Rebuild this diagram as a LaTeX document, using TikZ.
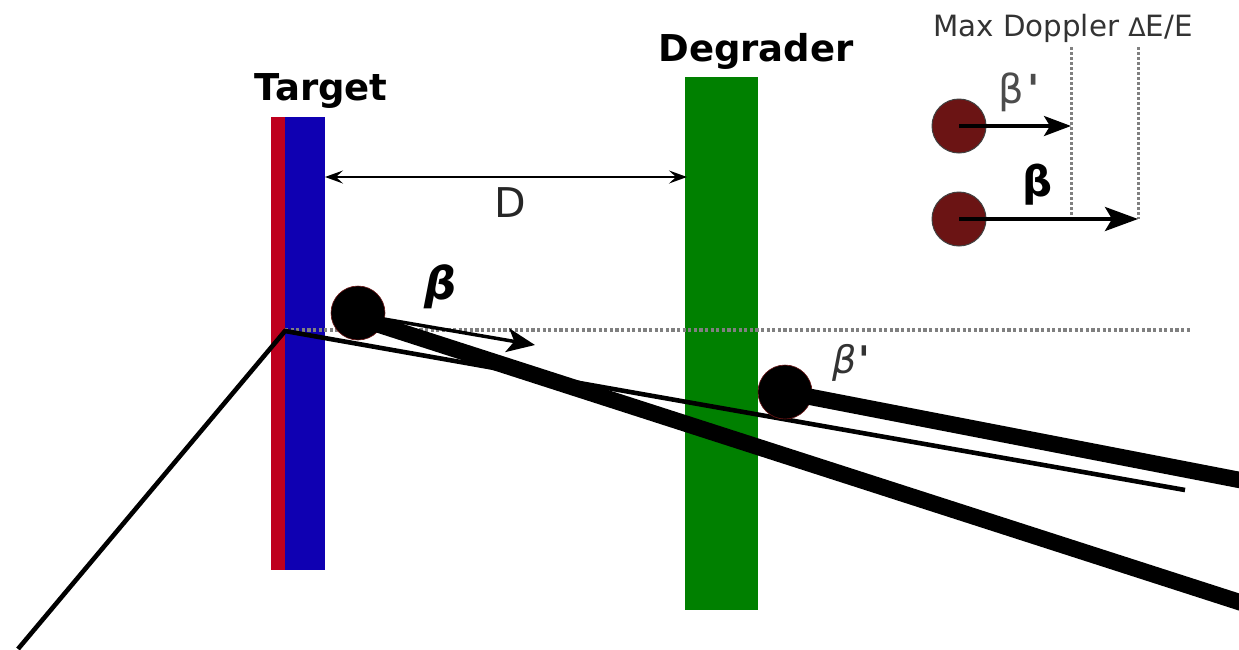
\documentclass[tikz,border=0pt]{standalone}
\usepackage{fontspec}
\setmainfont{DejaVu Sans}
\newfontfamily\nomap{DejaVu Sans}
\usetikzlibrary{arrows.meta}
\colorlet{dotgray}{black!50}
\definecolor{ballred}{RGB}{107,20,20}
\definecolor{tgtred}{RGB}{190,0,30}
\definecolor{tgtblue}{RGB}{15,0,178}
\definecolor{degreen}{RGB}{0,128,0}
\tikzset{
  foil/.style={draw=none,minimum width=#1,inner sep=0pt,outer sep=0pt},
  dotline/.style={draw=dotgray,line width=3.6pt,dash pattern=on 3.2pt off 2.4pt},
  vdot/.style={draw=dotgray,line width=3pt,dash pattern=on 3pt off 2pt},
  ballk/.style={circle,fill=black,draw=ballred,line width=0.6pt,minimum size=54pt,inner sep=0pt},
  ballr/.style={circle,fill=ballred,draw=black!75,line width=1pt,minimum size=54pt,inner sep=0pt},
  track/.style={draw=black,line width=4.6pt},
  beam/.style={draw=black,line width=16.4pt},
  head/.style={font=\bfseries\fontsize{37}{37}\selectfont},
  small/.style={font=\fontsize{29.3}{30}\selectfont,text=black!80},
  arr/.style={draw=black,line width=3.5pt,-{Stealth[length=#1,width=#1*0.85,inset=#1*0.25]}},
}
\begin{document}
\begin{tikzpicture}[x=1pt,y=-1pt]
\useasboundingbox (0,0) rectangle (1239,649);
\clip (0,0) rectangle (1239,649);
\fill[white] (0,0) rectangle (1239,649);
% foils
\node[foil=14pt,minimum height=453pt,fill=tgtred] (red) at (278,343.5) {};
\node[foil=40pt,minimum height=453pt,fill=tgtblue] (blue) at (305,343.5) {};
\node[foil=73pt,minimum height=533pt,fill=degreen] (deg) at (721.5,343.5) {};
% labels
\node[head] (tlab) at (321,91) {Target};
\node[head] (dlab) at (756,51) {Degrader};
\node[font=\fontsize{41}{41}\selectfont,text=black!85] (dist) at (510,203) {D};
\node[small] (title) at (1063,28) {Max Doppler {\fontsize{25.5}{25.5}\selectfont Δ}E/E};
% coordinates
\coordinate (vertex) at (285,331);
\coordinate (inc) at (18,649);
\coordinate (trackend) at (1185,490);
\coordinate (axisend) at (1190,330);
\coordinate (beam1start) at (358,318);
\coordinate (beam1end) at (1250,605.5);
\coordinate (beam2end) at (1250,482);
\coordinate (barrow) at (535,345);
\coordinate (dl) at (325,177);
\coordinate (dr) at (687,177);
% axis and track
\draw[dotline] (vertex |- axisend) -- (axisend);
\draw[track,line join=miter] (inc) -- (vertex) -- (trackend);
% D dimension
\draw[draw=black,line width=1.8pt,{Stealth[length=18pt,width=13pt,inset=7pt]}-{Stealth[length=18pt,width=13pt,inset=7pt]}] (dl) -- (dr);
% balls and beams
\node[ballk] (b1) at (358,313) {};
\node[ballk] (b2) at (785,392) {};
\draw[arr=28pt] (b1.center) ++(20,5) coordinate (bstart) (bstart) -- (barrow);
\draw[beam] (beam1start) -- (beam1end);
\draw[beam] (b2.center) -- (beam2end);
\node[font=\bfseries\itshape\fontsize{45}{45}\selectfont] (blab) at (441,287) {β};
\node[font=\itshape\fontsize{38}{38}\selectfont,text=black!80] (bplab) at (851,363) {β\hspace{2pt}{\nomap\bfseries '}};
% inset
\coordinate (v1top) at (1071,47);
\coordinate (v2top) at (1138,47);
\node[ballr] (i1) at (959,126) {};
\node[ballr] (i2) at (959,219) {};
\coordinate (v1bot) at (1071,219);
\coordinate (v2bot) at (1138,219);
\draw[vdot] (v1top) -- (v1bot);
\draw[vdot] (v2top) -- (v2bot);
\draw[draw=black,line width=3.4pt,-{Stealth[length=27pt,width=20pt,inset=6pt]}] (i1.center) -- (i1.center -| v1top);
\draw[draw=black,line width=3.8pt,-{Stealth[length=33pt,width=24pt,inset=7pt]}] (i2.center) -- (v2bot);
\node[font=\fontsize{40}{40}\selectfont,text=black!70] (ibp) at (1019,92) {β\hspace{4pt}{\nomap\bfseries '}};
\node[font=\bfseries\fontsize{42}{42}\selectfont] (ib) at (1038,185) {β};
\end{tikzpicture}
\end{document}
